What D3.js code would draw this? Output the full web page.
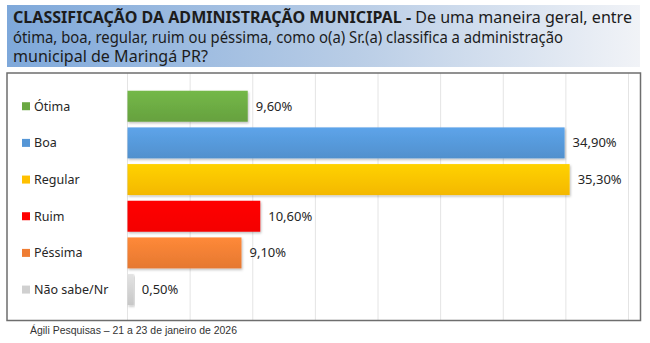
<!DOCTYPE html>
<html>
<head>
<meta charset="utf-8">
<script src="https://cdn.jsdelivr.net/npm/d3@7"></script>
<style>
  html, body { margin: 0; padding: 0; background: #ffffff; }
  svg { display: block; }
</style>
</head>
<body>
<svg id="chart" width="650" height="343"></svg>
<script>
// Survey answers and shares (%)
const categories = ["Ótima", "Boa", "Regular", "Ruim", "Péssima", "Não sabe/Nr"];
const values = [9.6, 34.9, 35.3, 10.6, 9.1, 0.5];
const valueLabels = ["9,60%", "34,90%", "35,30%", "10,60%", "9,10%", "0,50%"];
const barColors = ["#6aa842", "#5596d6", "#ffc000", "#ff0000", "#ef7d33", "#d0d0d0"];
const gridTicks = [0, 5, 10, 15, 20, 25, 30, 35, 40];

const titleBold = "CLASSIFICAÇÃO DA ADMINISTRAÇÃO MUNICIPAL - ";
const titleLines = [
  "De uma maneira geral, entre",
  "ótima, boa, regular, ruim ou péssima, como o(a) Sr.(a) classifica a administração",
  "municipal de Maringá PR?"
];
const footnote = "Ágili Pesquisas – 21 a 23 de janeiro de 2026";

const svg = d3.select("#chart");
const defs = svg.append("defs");

// Header band: blue fading to near white
const hg = defs.append("linearGradient").attr("id", "headGrad")
  .attr("x1", "0%").attr("x2", "100%").attr("y1", "0%").attr("y2", "0%");
hg.append("stop").attr("offset", "0%").attr("stop-color", "#7ea8da");
hg.append("stop").attr("offset", "55%").attr("stop-color", "#b9cde6");
hg.append("stop").attr("offset", "100%").attr("stop-color", "#f1f3f7");

svg.append("rect")
  .attr("x", 7).attr("y", 5).attr("width", 633).attr("height", 62)
  .attr("fill", "url(#headGrad)");

const titleFont = "'Noto Sans', 'Open Sans', sans-serif";
const titleWidths = [619, 550, 195];
const titleY = [23, 43, 62];

const t1 = svg.append("text")
  .attr("x", 13).attr("y", titleY[0])
  .attr("font-family", titleFont).attr("font-size", 16)
  .attr("fill", "#1c1c1c")
  .attr("textLength", titleWidths[0]).attr("lengthAdjust", "spacingAndGlyphs");
t1.append("tspan").attr("font-weight", "bold").text(titleBold);
t1.append("tspan").text(titleLines[0]);

[1, 2].forEach(i => {
  svg.append("text")
    .attr("x", 13).attr("y", titleY[i])
    .attr("font-family", titleFont).attr("font-size", 16)
    .attr("fill", "#1c1c1c")
    .attr("textLength", titleWidths[i]).attr("lengthAdjust", "spacingAndGlyphs")
    .text(titleLines[i]);
});

// Plot area
const plot = { left: 7, top: 73, right: 640.5, bottom: 320.5 };

const x = d3.scaleLinear().domain([0, 40]).range([127.5, 628.5]);
const y = d3.scaleBand().domain(categories).range([87.8, 308]).paddingInner(0.155).paddingOuter(0.08);

// Vertical gridlines
svg.append("g")
  .selectAll("line").data(gridTicks).join("line")
  .attr("x1", d => x(d)).attr("x2", d => x(d))
  .attr("y1", plot.top).attr("y2", plot.bottom)
  .attr("stroke", "#e4e4e4").attr("stroke-width", 1);

// Bar gradients: slightly lighter toward the top
barColors.forEach((c, i) => {
  const g = defs.append("linearGradient").attr("id", "bar" + i)
    .attr("x1", "0%").attr("x2", "0%").attr("y1", "0%").attr("y2", "100%");
  g.append("stop").attr("offset", "0%").attr("stop-color", d3.color(c).brighter(0.25));
  g.append("stop").attr("offset", "100%").attr("stop-color", d3.color(c).darker(0.12));
});

const shadow = defs.append("filter").attr("id", "shadow")
  .attr("x", "-5%").attr("y", "-10%").attr("width", "115%").attr("height", "140%");
shadow.append("feDropShadow").attr("dx", 1).attr("dy", 1.5).attr("stdDeviation", 1)
  .attr("flood-color", "#000").attr("flood-opacity", 0.25);

svg.append("g")
  .selectAll("rect").data(values).join("rect")
  .attr("x", x(0))
  .attr("y", (d, i) => y(categories[i]))
  .attr("width", d => x(d) - x(0))
  .attr("height", y.bandwidth())
  .attr("fill", (d, i) => `url(#bar${i})`)
  .attr("filter", "url(#shadow)");

// Value labels
const labelFont = "'Noto Sans', 'Open Sans', sans-serif";
svg.append("g")
  .selectAll("text").data(values).join("text")
  .attr("x", d => x(d) + 8)
  .attr("y", (d, i) => y(categories[i]) + y.bandwidth() / 2 + 1)
  .attr("dominant-baseline", "middle")
  .attr("font-family", labelFont).attr("font-size", 13)
  .attr("fill", "#262626")
  .text((d, i) => valueLabels[i]);

// Category keys on the left
const keys = svg.append("g")
  .selectAll("g").data(categories).join("g")
  .attr("transform", d => `translate(0, ${y(d) + y.bandwidth() / 2})`);
keys.append("rect")
  .attr("x", 22).attr("y", -4).attr("width", 8).attr("height", 8)
  .attr("fill", (d, i) => barColors[i]);
keys.append("text")
  .attr("x", 34).attr("y", 1)
  .attr("dominant-baseline", "middle")
  .attr("font-family", labelFont).attr("font-size", 12.5)
  .attr("fill", "#262626")
  .text(d => d);

// Plot frame
svg.append("rect")
  .attr("x", plot.left).attr("y", plot.top)
  .attr("width", plot.right - plot.left).attr("height", plot.bottom - plot.top)
  .attr("fill", "none").attr("stroke", "#6e6e6e").attr("stroke-width", 1.5);

// Source line
svg.append("text")
  .attr("x", 30).attr("y", 334)
  .attr("font-family", "'Liberation Sans', Arial, sans-serif").attr("font-size", 10.5)
  .attr("fill", "#333")
  .attr("textLength", 207).attr("lengthAdjust", "spacingAndGlyphs")
  .text(footnote);
</script>
</body>
</html>
